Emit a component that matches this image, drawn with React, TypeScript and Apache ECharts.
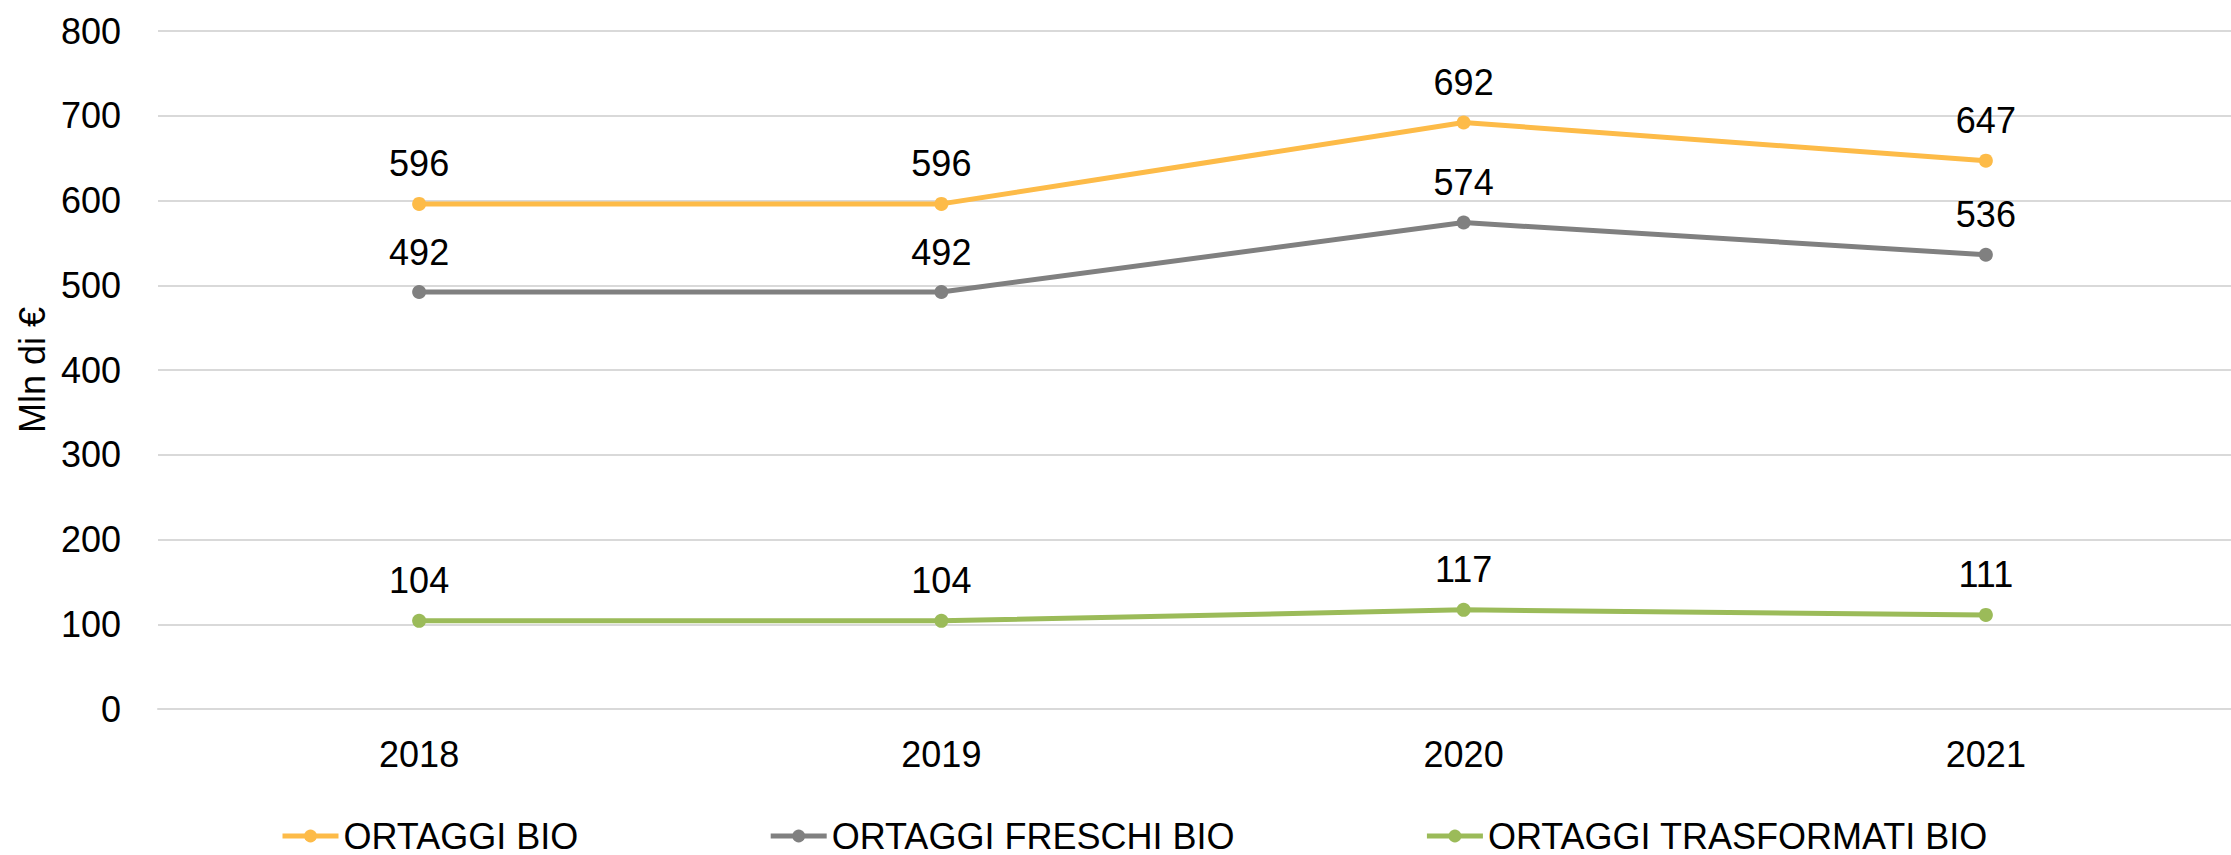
import React, { useEffect, useRef } from "react";
import * as echarts from "echarts";

const categories = ["2018", "2019", "2020", "2021"];
const ortaggiBio = [596, 596, 692, 647];
const ortaggiFreschi = [492, 492, 574, 536];
const ortaggiTrasformati = [104, 104, 117, 111];
const seriesNames = ["ORTAGGI BIO", "ORTAGGI FRESCHI BIO", "ORTAGGI TRASFORMATI BIO"];
const colors = ["#FDBB48", "#808080", "#9BBB59"];

const FONT = "'Liberation Sans', Arial, sans-serif";

export default function App() {
  const ref = useRef<HTMLDivElement>(null);
  useEffect(() => {
    if (!ref.current) return;
    const chart = echarts.init(ref.current, null, { renderer: "svg" });
    const dataSets = [ortaggiBio, ortaggiFreschi, ortaggiTrasformati];
    chart.setOption({
      animation: false,
      textStyle: { fontFamily: FONT },
      grid: {
        left: 158,
        width: 2089,
        top: 31,
        height: 678,
        containLabel: false,
        outerBoundsMode: "none",
      },
      legend: {
        data: seriesNames,
        left: 275,
        top: 813,
        itemWidth: 56,
        itemHeight: 16,
        itemGap: 190,
        lineStyle: { width: 5 },
        textStyle: { fontSize: 36, lineHeight: 30, color: "#000", fontFamily: FONT },
      },
      xAxis: {
        type: "category",
        data: categories,
        boundaryGap: true,
        axisLine: { show: true, lineStyle: { color: "#D9D9D9", width: 2 } },
        axisTick: { show: false },
        axisLabel: { fontSize: 36, color: "#000", margin: 27, fontFamily: FONT },
      },
      yAxis: {
        type: "value",
        min: 0,
        max: 800,
        interval: 100,
        name: "Mln di €",
        nameLocation: "middle",
        nameGap: 96,
        nameRotate: 90,
        nameTextStyle: { fontSize: 36, color: "#000", fontFamily: FONT },
        axisLine: { show: false },
        axisTick: { show: false },
        axisLabel: { fontSize: 36, color: "#000", margin: 37, fontFamily: FONT },
        splitLine: { lineStyle: { color: "#D9D9D9", width: 2 } },
      },
      series: dataSets.map((d, i) => ({
        name: seriesNames[i],
        type: "line",
        data: d,
        color: colors[i],
        symbol: "circle",
        symbolSize: 14,
        lineStyle: { width: 5, color: colors[i] },
        itemStyle: { color: colors[i] },
        label: {
          show: true,
          position: "top",
          distance: 15,
          fontSize: 36,
          color: "#000",
          fontFamily: FONT,
        },
      })),
    });
    return () => chart.dispose();
  }, []);
  return (
    <div
      ref={ref}
      style={{ position: "fixed", left: 0, top: 0, width: 2231, height: 855, background: "#fff" }}
    />
  );
}
